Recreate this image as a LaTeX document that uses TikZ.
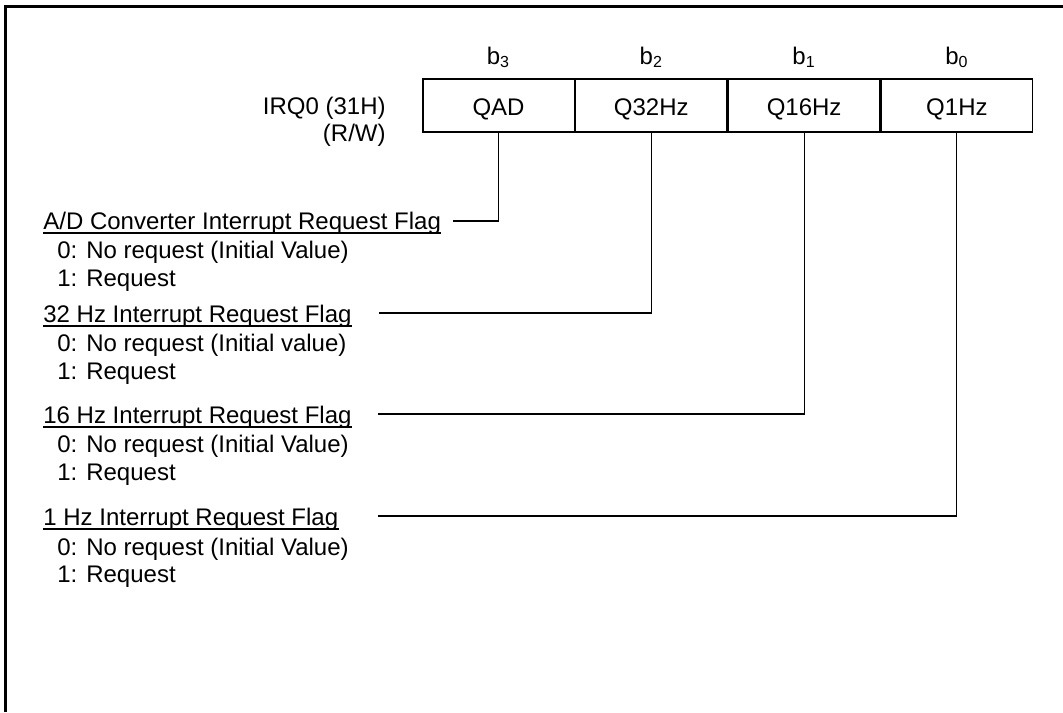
\documentclass[tikz,border=0pt]{standalone}
\usepackage{fontspec}
\setmainfont{Liberation Sans}
\usetikzlibrary{positioning}
\begin{document}
\begin{tikzpicture}[x=0.5pt, y=-0.5pt,
  font=\fontsize{12}{14}\selectfont,
  cell/.style={draw, line width=0.7pt, minimum width=75.7pt,
               minimum height=26.5pt, inner sep=0pt,
               text height=9.6pt, text depth=0pt},
  bit/.style={anchor=base, inner sep=0pt},
  lbl/.style={anchor=base west, inner sep=0pt},
  wire/.style={line width=0.55pt}
]
  \useasboundingbox (0,0) rectangle (1063,712);
  \draw[line width=1.5pt] (5.5,712) -- (5.5,6.5) -- (1063,6.5);

  \node[cell] (qad) at (498.5,105.5) {QAD};
  \node[cell, right=0pt of qad] (q32) {Q32Hz};
  \node[cell, right=0pt of q32] (q16) {Q16Hz};
  \node[cell, right=0pt of q16] (q1) {Q1Hz};
  \node[bit] (b3) at ([yshift=7pt]qad.north) {b\textsubscript{3}};
  \node[bit] (b2) at ([yshift=7pt]q32.north) {b\textsubscript{2}};
  \node[bit] (b1) at ([yshift=7pt]q16.north) {b\textsubscript{1}};
  \node[bit] (b0) at ([yshift=7pt]q1.north) {b\textsubscript{0}};
  \node[anchor=base east, inner sep=0pt] (irq) at (386,114) {IRQ0 (31H)};
  \node[anchor=base east, inner sep=0pt] (rw) at (386,141) {(R/W)};

  \node[lbl] (adf) at (43,229) {A/D Converter Interrupt Request Flag};
  \node[lbl] (ad0) at (57,258) {0: No request (Initial Value)};
  \node[lbl] (ad1) at (57,286) {1: Request};
  \draw[wire] ([yshift=-2pt]adf.base west) -- ([yshift=-2pt]adf.base east);
  \coordinate (adw) at (453,221);
  \draw[wire] (adw) -| (qad.south);

  \node[lbl] (f32) at (43,322) {32 Hz Interrupt Request Flag};
  \node[lbl] (f320) at (57,351) {0: No request (Initial value)};
  \node[lbl] (f321) at (57,379) {1: Request};
  \draw[wire] ([yshift=-2pt]f32.base west) -- ([yshift=-2pt]f32.base east);
  \coordinate (w32) at (379,313);
  \draw[wire] (w32) -| (q32.south);

  \node[lbl] (f16) at (43,423) {16 Hz Interrupt Request Flag};
  \node[lbl] (f160) at (57,452) {0: No request (Initial Value)};
  \node[lbl] (f161) at (57,480) {1: Request};
  \draw[wire] ([yshift=-2pt]f16.base west) -- ([yshift=-2pt]f16.base east);
  \coordinate (w16) at (378,414);
  \draw[wire] (w16) -| (q16.south);

  \node[lbl] (f1) at (43,525) {1 Hz Interrupt Request Flag};
  \node[lbl] (f10) at (57,555) {0: No request (Initial Value)};
  \node[lbl] (f11) at (57,582) {1: Request};
  \draw[wire] ([yshift=-2pt]f1.base west) -- ([yshift=-2pt]f1.base east);
  \coordinate (w1) at (378,516);
  \draw[wire] (w1) -| (q1.south);
\end{tikzpicture}
\end{document}
